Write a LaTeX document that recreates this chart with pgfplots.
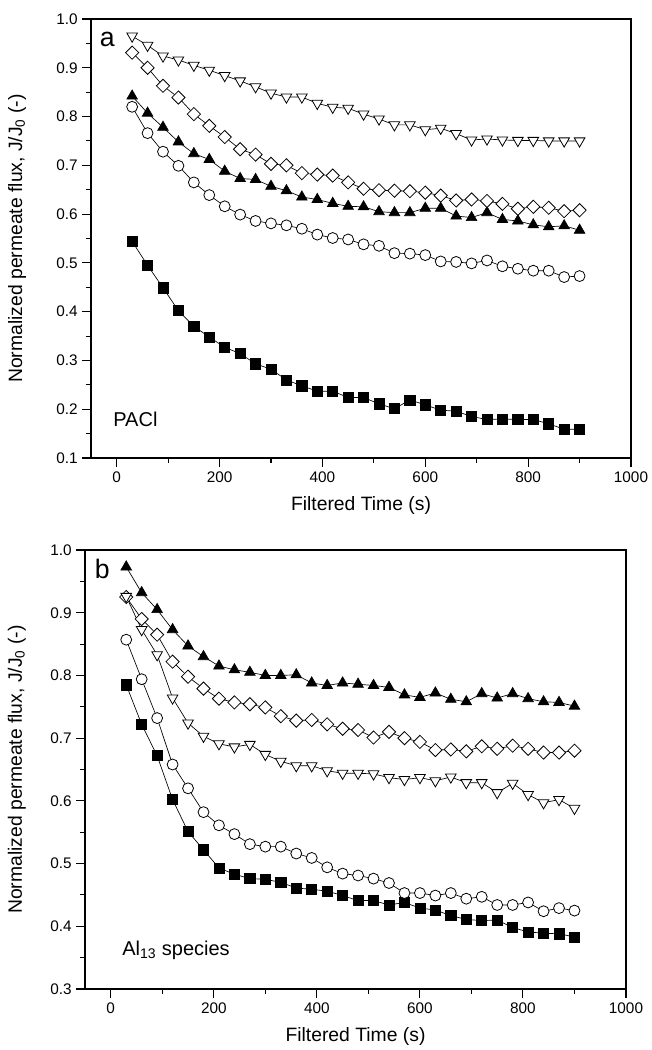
\documentclass[border=0pt]{standalone}
\usepackage{fontspec}
\setmainfont{Liberation Sans}
\usepackage{pgfplots}
\usepackage{pgfplotstable}
\pgfplotsset{compat=1.18}

% panel a: PACl
\pgfplotstableread{
t   sq    ci    tu    di    td
30  0.544 0.820 0.842 0.931 0.965
60  0.495 0.766 0.807 0.900 0.946
90  0.449 0.728 0.778 0.863 0.924
120 0.402 0.699 0.748 0.839 0.916
150 0.370 0.665 0.724 0.805 0.905
180 0.348 0.639 0.712 0.781 0.895
210 0.327 0.616 0.688 0.758 0.884
240 0.314 0.599 0.673 0.733 0.873
270 0.293 0.586 0.671 0.722 0.861
300 0.282 0.581 0.657 0.703 0.848
330 0.260 0.577 0.648 0.700 0.840
360 0.248 0.570 0.635 0.684 0.840
390 0.237 0.558 0.630 0.681 0.827
420 0.237 0.551 0.622 0.679 0.819
450 0.224 0.548 0.616 0.665 0.817
480 0.224 0.538 0.615 0.652 0.805
510 0.211 0.535 0.605 0.649 0.795
540 0.201 0.520 0.603 0.648 0.783
570 0.219 0.519 0.603 0.647 0.783
600 0.209 0.516 0.612 0.644 0.773
630 0.198 0.503 0.612 0.638 0.776
660 0.196 0.502 0.596 0.628 0.765
690 0.185 0.499 0.593 0.630 0.752
720 0.179 0.505 0.603 0.627 0.754
750 0.180 0.493 0.589 0.621 0.752
780 0.179 0.488 0.586 0.611 0.751
810 0.179 0.484 0.578 0.615 0.751
840 0.170 0.484 0.574 0.613 0.750
870 0.159 0.471 0.576 0.606 0.750
900 0.159 0.473 0.567 0.608 0.750
}\fluxA

% panel b: Al13 species
\pgfplotstableread{
t   sq    ci    tu    di    td
30  0.785 0.857 0.973 0.925 0.926
60  0.722 0.794 0.932 0.890 0.873
90  0.672 0.732 0.905 0.865 0.833
120 0.602 0.658 0.873 0.822 0.764
150 0.551 0.620 0.847 0.798 0.724
180 0.522 0.582 0.830 0.779 0.703
210 0.493 0.561 0.815 0.763 0.691
240 0.483 0.547 0.809 0.757 0.686
270 0.476 0.531 0.805 0.754 0.690
300 0.475 0.527 0.800 0.749 0.674
330 0.470 0.527 0.800 0.735 0.663
360 0.461 0.516 0.801 0.728 0.656
390 0.459 0.509 0.788 0.729 0.656
420 0.456 0.494 0.784 0.722 0.648
450 0.449 0.484 0.788 0.715 0.644
480 0.441 0.481 0.786 0.713 0.644
510 0.441 0.476 0.784 0.701 0.643
540 0.434 0.469 0.781 0.710 0.637
570 0.438 0.453 0.769 0.700 0.634
600 0.429 0.453 0.765 0.694 0.637
630 0.426 0.449 0.772 0.681 0.632
660 0.417 0.453 0.762 0.682 0.638
690 0.411 0.444 0.758 0.679 0.629
720 0.409 0.447 0.771 0.687 0.629
750 0.410 0.434 0.764 0.683 0.613
780 0.398 0.434 0.771 0.688 0.628
810 0.391 0.438 0.763 0.683 0.610
840 0.389 0.424 0.758 0.677 0.597
870 0.388 0.429 0.757 0.677 0.602
900 0.383 0.425 0.751 0.680 0.588
}\fluxB

\pgfplotsset{
  panel/.style={
    scale only axis, height=329.25pt,
    xmin=-50, xmax=1000, xtick={0,200,400,600,800,1000},
    minor x tick num=1, minor y tick num=1,
    tick align=outside, xtick pos=bottom, ytick pos=left,
    major tick length=6.5pt, minor tick length=3.5pt,
    axis line style={line width=0.9pt},
    every tick/.style={black, line width=0.8pt},
    tick label style={font=\fontsize{11.5}{13}\selectfont},
    /pgf/number format/assume math mode=true,
    xticklabel style={/pgf/number format/1000 sep={}},
    yticklabel style={/pgf/number format/.cd, fixed, fixed zerofill, precision=1},
    label style={font=\fontsize{14.5}{17}\selectfont},
    xlabel={Filtered Time (s)},
    ylabel={Normalized permeate flux, J/J\textsubscript{0} (-)},
    xlabel style={at={(axis description cs:0.5,-0.109)}, anchor=center},
  },
  sq/.style={black, line width=0.5pt, mark=square*, mark size=3.8pt, mark options={solid, fill=black}},
  ci/.style={black, line width=0.5pt, mark=*, mark size=4.1pt, mark options={solid, fill=white, line width=0.6pt}},
  tu/.style={black, line width=0.5pt, mark=triangle*, mark size=4.6pt, mark options={solid, fill=black}},
  di/.style={black, line width=0.5pt, mark=square*, mark size=3.5pt, mark options={solid, rotate=45, fill=white, line width=0.6pt}},
  td/.style={black, line width=0.5pt, mark=triangle*, mark size=4.6pt, mark options={solid, rotate=180, fill=white, line width=0.6pt}},
}

\begin{document}
\begin{tikzpicture}
\path[use as bounding box] (-68.25pt,14.25pt) rectangle (420pt,-773.25pt);

\begin{axis}[panel, width=405pt, at={(0pt,0pt)}, anchor=north west,
  ymin=0.1, ymax=1.0, ytick={0.1,0.2,0.3,0.4,0.5,0.6,0.7,0.8,0.9,1.0},
  ylabel style={at={(axis description cs:-0.137,0.5)}, anchor=center}]
\addplot[sq] table[x=t,y=sq] {\fluxA};
\addplot[ci] table[x=t,y=ci] {\fluxA};
\addplot[tu] table[x=t,y=tu] {\fluxA};
\addplot[di] table[x=t,y=di] {\fluxA};
\addplot[td] table[x=t,y=td] {\fluxA};
\node[anchor=center, font=\fontsize{20}{24}\selectfont, inner sep=0pt] at (axis description cs:0.03,0.954) {a};
\node[anchor=base west, font=\fontsize{15}{18}\selectfont, inner sep=0pt] at (axis cs:-7,0.164) {PACl};
\end{axis}

\begin{axis}[panel, width=405.75pt, at={(-4.5pt,-398.25pt)}, anchor=north west,
  ymin=0.3, ymax=1.0, ytick={0.3,0.4,0.5,0.6,0.7,0.8,0.9,1.0},
  ylabel style={at={(axis description cs:-0.126,0.5)}, anchor=center}]
\addplot[sq] table[x=t,y=sq] {\fluxB};
\addplot[ci] table[x=t,y=ci] {\fluxB};
\addplot[tu] table[x=t,y=tu] {\fluxB};
\addplot[di] table[x=t,y=di] {\fluxB};
\addplot[td] table[x=t,y=td] {\fluxB};
\node[anchor=center, font=\fontsize{20}{24}\selectfont, inner sep=0pt] at (axis description cs:0.032,0.957) {b};
\node[anchor=base west, font=\fontsize{15}{18}\selectfont, inner sep=0pt] at (axis cs:22,0.354) {Al\textsubscript{13} species};
\end{axis}
\end{tikzpicture}
\end{document}
